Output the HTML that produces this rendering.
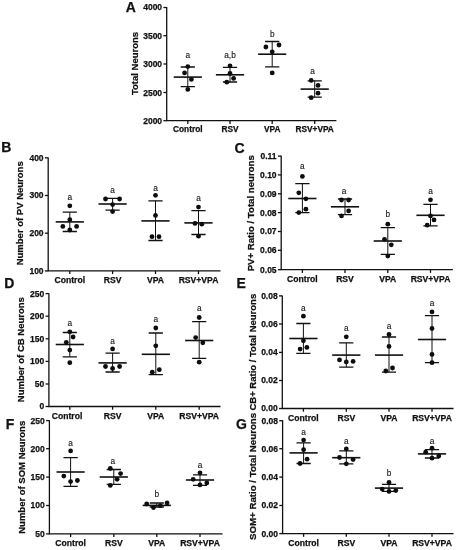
<!DOCTYPE html>
<html><head><meta charset="utf-8"><title>Figure</title>
<style>html,body{margin:0;padding:0;background:#fff;}svg{display:block;will-change:transform;}text{font-family:"Liberation Sans",sans-serif;fill:#111;}.b{font-weight:bold;stroke:#111;stroke-width:0.25px;}.ln{stroke:#111;stroke-width:1.3;fill:none;}.d{fill:#0d0d0d;}.m{stroke-width:1.6}.c{stroke-width:1.3}.v{stroke-width:1.0}</style></head><body>
<svg width="458" height="550" viewBox="0 0 458 550">
<rect width="458" height="550" fill="#fff"/>
<g>
<text class="b" x="125.7" y="12.2" font-size="14">A</text>
<path class="ln" d="M166.7 7.0V120.7H336.4"/>
<path class="ln" d="M163.4 7.5H166.7"/>
<text class="b" x="162.1" y="10.4" font-size="8.5" text-anchor="end">4000</text>
<path class="ln" d="M163.4 35.7H166.7"/>
<text class="b" x="162.1" y="38.7" font-size="8.5" text-anchor="end">3500</text>
<path class="ln" d="M163.4 64.0H166.7"/>
<text class="b" x="162.1" y="67.0" font-size="8.5" text-anchor="end">3000</text>
<path class="ln" d="M163.4 92.5H166.7"/>
<text class="b" x="162.1" y="95.5" font-size="8.5" text-anchor="end">2500</text>
<path class="ln" d="M163.4 120.7H166.7"/>
<text class="b" x="162.1" y="123.7" font-size="8.5" text-anchor="end">2000</text>
<text class="b" font-size="9.5" text-anchor="middle" transform="translate(137.8 63.5) rotate(-90)">Total Neurons</text>
<path class="ln" d="M187.8 120.7V123.9"/>
<text class="b" x="187.8" y="132.3" font-size="8.3" text-anchor="middle">Control</text>
<path class="ln m" d="M173.7 77.1H201.9"/>
<path class="ln c" d="M180.7 67.0H194.9M180.7 86.7H194.9"/>
<path class="ln v" d="M187.8 67.0V86.7"/>
<circle class="d" cx="187.8" cy="66.6" r="2.4"/>
<circle class="d" cx="184.6" cy="72.9" r="2.4"/>
<circle class="d" cx="191.4" cy="79.4" r="2.4"/>
<circle class="d" cx="187.8" cy="89.4" r="2.4"/>
<text x="187.8" y="58.4" font-size="8.3" text-anchor="middle" fill="#2a2a2a" stroke="#2a2a2a" stroke-width="0.12">a</text>
<path class="ln" d="M230.0 120.7V123.9"/>
<text class="b" x="230.0" y="132.3" font-size="8.3" text-anchor="middle">RSV</text>
<path class="ln m" d="M215.9 74.8H244.1"/>
<path class="ln c" d="M222.9 67.3H237.1M222.9 82.0H237.1"/>
<path class="ln v" d="M230.0 67.3V82.0"/>
<circle class="d" cx="230.0" cy="65.8" r="2.4"/>
<circle class="d" cx="230.0" cy="73.4" r="2.4"/>
<circle class="d" cx="226.8" cy="82.2" r="2.4"/>
<circle class="d" cx="233.6" cy="78.4" r="2.4"/>
<text x="230.0" y="58.4" font-size="8.3" text-anchor="middle" fill="#2a2a2a" stroke="#2a2a2a" stroke-width="0.12">a,b</text>
<path class="ln" d="M272.2 120.7V123.9"/>
<text class="b" x="272.2" y="132.3" font-size="8.3" text-anchor="middle">VPA</text>
<path class="ln m" d="M258.1 54.2H286.3"/>
<path class="ln c" d="M265.1 41.5H279.3M265.1 66.8H279.3"/>
<path class="ln v" d="M272.2 41.5V66.8"/>
<circle class="d" cx="265.9" cy="47.0" r="2.4"/>
<circle class="d" cx="279.0" cy="45.0" r="2.4"/>
<circle class="d" cx="272.2" cy="51.8" r="2.4"/>
<circle class="d" cx="272.2" cy="72.9" r="2.4"/>
<text x="272.2" y="37.0" font-size="8.3" text-anchor="middle" fill="#2a2a2a" stroke="#2a2a2a" stroke-width="0.12">b</text>
<path class="ln" d="M314.7 120.7V123.9"/>
<text class="b" x="314.7" y="132.3" font-size="8.3" text-anchor="middle">RSV+VPA</text>
<path class="ln m" d="M300.6 89.1H328.8"/>
<path class="ln c" d="M307.6 80.9H321.8M307.6 97.2H321.8"/>
<path class="ln v" d="M314.7 80.9V97.2"/>
<circle class="d" cx="311.2" cy="80.4" r="2.4"/>
<circle class="d" cx="318.0" cy="85.4" r="2.4"/>
<circle class="d" cx="318.0" cy="93.2" r="2.4"/>
<circle class="d" cx="311.2" cy="97.7" r="2.4"/>
<text x="312.6" y="73.6" font-size="8.3" text-anchor="middle" fill="#2a2a2a" stroke="#2a2a2a" stroke-width="0.12">a</text>
</g>
<g>
<text class="b" x="1.3" y="152.2" font-size="14">B</text>
<path class="ln" d="M48.2 157.4V270.9H220.5"/>
<path class="ln" d="M44.9 157.8H48.2"/>
<text class="b" x="43.6" y="160.8" font-size="8.5" text-anchor="end">400</text>
<path class="ln" d="M44.9 195.5H48.2"/>
<text class="b" x="43.6" y="198.4" font-size="8.5" text-anchor="end">300</text>
<path class="ln" d="M44.9 233.2H48.2"/>
<text class="b" x="43.6" y="236.1" font-size="8.5" text-anchor="end">200</text>
<path class="ln" d="M44.9 270.9H48.2"/>
<text class="b" x="43.6" y="273.8" font-size="8.5" text-anchor="end">100</text>
<text class="b" font-size="9.5" text-anchor="middle" transform="translate(22.9 213.3) rotate(-90)">Number of PV Neurons</text>
<path class="ln" d="M69.8 270.9V274.1"/>
<text class="b" x="69.8" y="282.6" font-size="8.6" text-anchor="middle">Control</text>
<path class="ln m" d="M55.7 221.9H83.9"/>
<path class="ln c" d="M62.7 212.1H76.9M62.7 231.5H76.9"/>
<path class="ln v" d="M69.8 212.1V231.5"/>
<circle class="d" cx="69.8" cy="205.8" r="2.4"/>
<circle class="d" cx="69.8" cy="219.7" r="2.4"/>
<circle class="d" cx="62.8" cy="226.4" r="2.4"/>
<circle class="d" cx="76.6" cy="226.4" r="2.4"/>
<circle class="d" cx="69.8" cy="230.0" r="2.4"/>
<text x="69.8" y="200.4" font-size="8.3" text-anchor="middle" fill="#2a2a2a" stroke="#2a2a2a" stroke-width="0.12">a</text>
<path class="ln" d="M112.6 270.9V274.1"/>
<text class="b" x="112.6" y="282.6" font-size="8.6" text-anchor="middle">RSV</text>
<path class="ln m" d="M98.5 204.0H126.7"/>
<path class="ln c" d="M105.5 198.3H119.7M105.5 210.1H119.7"/>
<path class="ln v" d="M112.6 198.3V210.1"/>
<circle class="d" cx="105.5" cy="199.0" r="2.4"/>
<circle class="d" cx="119.6" cy="199.0" r="2.4"/>
<circle class="d" cx="112.6" cy="204.6" r="2.4"/>
<circle class="d" cx="112.6" cy="211.6" r="2.4"/>
<text x="112.6" y="192.9" font-size="8.3" text-anchor="middle" fill="#2a2a2a" stroke="#2a2a2a" stroke-width="0.12">a</text>
<path class="ln" d="M155.5 270.9V274.1"/>
<text class="b" x="155.5" y="282.6" font-size="8.6" text-anchor="middle">VPA</text>
<path class="ln m" d="M141.4 220.9H169.6"/>
<path class="ln c" d="M148.4 200.8H162.6M148.4 240.5H162.6"/>
<path class="ln v" d="M155.5 200.8V240.5"/>
<circle class="d" cx="155.5" cy="195.3" r="2.4"/>
<circle class="d" cx="155.5" cy="215.4" r="2.4"/>
<circle class="d" cx="152.0" cy="236.7" r="2.4"/>
<circle class="d" cx="159.0" cy="236.7" r="2.4"/>
<text x="155.5" y="191.1" font-size="8.3" text-anchor="middle" fill="#2a2a2a" stroke="#2a2a2a" stroke-width="0.12">a</text>
<path class="ln" d="M198.5 270.9V274.1"/>
<text class="b" x="198.5" y="282.6" font-size="8.6" text-anchor="middle">RSV+VPA</text>
<path class="ln m" d="M184.4 222.9H212.6"/>
<path class="ln c" d="M191.4 210.6H205.6M191.4 234.5H205.6"/>
<path class="ln v" d="M198.5 210.6V234.5"/>
<circle class="d" cx="198.5" cy="207.1" r="2.4"/>
<circle class="d" cx="195.0" cy="223.4" r="2.4"/>
<circle class="d" cx="201.8" cy="224.2" r="2.4"/>
<circle class="d" cx="198.5" cy="236.2" r="2.4"/>
<text x="198.5" y="200.9" font-size="8.3" text-anchor="middle" fill="#2a2a2a" stroke="#2a2a2a" stroke-width="0.12">a</text>
</g>
<g>
<text class="b" x="234.5" y="153.0" font-size="14">C</text>
<path class="ln" d="M281.2 155.7V269.7H452.8"/>
<path class="ln" d="M277.9 156.1H281.2"/>
<text class="b" x="276.6" y="159.0" font-size="8.5" text-anchor="end">0.11</text>
<path class="ln" d="M277.9 174.9H281.2"/>
<text class="b" x="276.6" y="177.8" font-size="8.5" text-anchor="end">0.10</text>
<path class="ln" d="M277.9 193.8H281.2"/>
<text class="b" x="276.6" y="196.8" font-size="8.5" text-anchor="end">0.09</text>
<path class="ln" d="M277.9 212.6H281.2"/>
<text class="b" x="276.6" y="215.5" font-size="8.5" text-anchor="end">0.08</text>
<path class="ln" d="M277.9 231.5H281.2"/>
<text class="b" x="276.6" y="234.4" font-size="8.5" text-anchor="end">0.07</text>
<path class="ln" d="M277.9 250.3H281.2"/>
<text class="b" x="276.6" y="253.2" font-size="8.5" text-anchor="end">0.06</text>
<path class="ln" d="M277.9 269.7H281.2"/>
<text class="b" x="276.6" y="272.6" font-size="8.5" text-anchor="end">0.05</text>
<text class="b" font-size="9.65" text-anchor="middle" transform="translate(254.3 213.3) rotate(-90)">PV+ Ratio / Total neurons</text>
<path class="ln" d="M302.4 269.7V272.9"/>
<text class="b" x="302.4" y="281.7" font-size="8.6" text-anchor="middle">Control</text>
<path class="ln m" d="M288.3 198.5H316.5"/>
<path class="ln c" d="M295.3 183.7H309.5M295.3 212.6H309.5"/>
<path class="ln v" d="M302.4 183.7V212.6"/>
<circle class="d" cx="302.4" cy="176.4" r="2.4"/>
<circle class="d" cx="298.8" cy="192.8" r="2.4"/>
<circle class="d" cx="305.9" cy="198.8" r="2.4"/>
<circle class="d" cx="298.8" cy="212.6" r="2.4"/>
<circle class="d" cx="305.9" cy="209.2" r="2.4"/>
<text x="302.4" y="169.4" font-size="8.3" text-anchor="middle" fill="#2a2a2a" stroke="#2a2a2a" stroke-width="0.12">a</text>
<path class="ln" d="M345.0 269.7V272.9"/>
<text class="b" x="345.0" y="281.7" font-size="8.6" text-anchor="middle">RSV</text>
<path class="ln m" d="M330.9 206.8H359.1"/>
<path class="ln c" d="M337.9 199.0H352.1M337.9 214.6H352.1"/>
<path class="ln v" d="M345.0 199.0V214.6"/>
<circle class="d" cx="341.5" cy="200.0" r="2.4"/>
<circle class="d" cx="348.6" cy="200.0" r="2.4"/>
<circle class="d" cx="348.6" cy="210.9" r="2.4"/>
<circle class="d" cx="341.5" cy="215.9" r="2.4"/>
<text x="344.0" y="193.9" font-size="8.3" text-anchor="middle" fill="#2a2a2a" stroke="#2a2a2a" stroke-width="0.12">a</text>
<path class="ln" d="M387.8 269.7V272.9"/>
<text class="b" x="387.8" y="281.7" font-size="8.6" text-anchor="middle">VPA</text>
<path class="ln m" d="M373.7 241.0H401.9"/>
<path class="ln c" d="M380.7 227.7H394.9M380.7 254.3H394.9"/>
<path class="ln v" d="M387.8 227.7V254.3"/>
<circle class="d" cx="387.8" cy="224.2" r="2.4"/>
<circle class="d" cx="384.5" cy="239.3" r="2.4"/>
<circle class="d" cx="391.3" cy="244.8" r="2.4"/>
<circle class="d" cx="387.8" cy="256.1" r="2.4"/>
<text x="387.8" y="216.5" font-size="8.3" text-anchor="middle" fill="#2a2a2a" stroke="#2a2a2a" stroke-width="0.12">b</text>
<path class="ln" d="M430.5 269.7V272.9"/>
<text class="b" x="430.5" y="281.7" font-size="8.6" text-anchor="middle">RSV+VPA</text>
<path class="ln m" d="M416.4 215.3H444.6"/>
<path class="ln c" d="M423.4 204.3H437.6M423.4 225.9H437.6"/>
<path class="ln v" d="M430.5 204.3V225.9"/>
<circle class="d" cx="430.5" cy="199.8" r="2.4"/>
<circle class="d" cx="430.5" cy="215.9" r="2.4"/>
<circle class="d" cx="434.0" cy="219.9" r="2.4"/>
<circle class="d" cx="427.2" cy="225.2" r="2.4"/>
<text x="430.5" y="194.1" font-size="8.3" text-anchor="middle" fill="#2a2a2a" stroke="#2a2a2a" stroke-width="0.12">a</text>
</g>
<g>
<text class="b" x="4.3" y="287.6" font-size="14">D</text>
<path class="ln" d="M48.9 293.2V406.5H220.5"/>
<path class="ln" d="M45.6 293.6H48.9"/>
<text class="b" x="44.3" y="296.6" font-size="8.5" text-anchor="end">250</text>
<path class="ln" d="M45.6 316.2H48.9"/>
<text class="b" x="44.3" y="319.1" font-size="8.5" text-anchor="end">200</text>
<path class="ln" d="M45.6 338.8H48.9"/>
<text class="b" x="44.3" y="341.8" font-size="8.5" text-anchor="end">150</text>
<path class="ln" d="M45.6 361.4H48.9"/>
<text class="b" x="44.3" y="364.3" font-size="8.5" text-anchor="end">100</text>
<path class="ln" d="M45.6 384.0H48.9"/>
<text class="b" x="44.3" y="386.9" font-size="8.5" text-anchor="end">50</text>
<path class="ln" d="M45.6 406.5H48.9"/>
<text class="b" x="44.3" y="409.4" font-size="8.5" text-anchor="end">0</text>
<text class="b" font-size="9.5" text-anchor="middle" transform="translate(24.3 349.7) rotate(-90)">Number of CB Neurons</text>
<path class="ln" d="M69.8 406.5V409.7"/>
<text class="b" x="67.0" y="418.6" font-size="8.6" text-anchor="middle">Control</text>
<path class="ln m" d="M55.7 344.5H83.9"/>
<path class="ln c" d="M62.7 332.5H76.9M62.7 356.9H76.9"/>
<path class="ln v" d="M69.8 332.5V356.9"/>
<circle class="d" cx="69.8" cy="331.8" r="2.4"/>
<circle class="d" cx="73.1" cy="337.0" r="2.4"/>
<circle class="d" cx="66.3" cy="342.3" r="2.4"/>
<circle class="d" cx="69.8" cy="350.1" r="2.4"/>
<circle class="d" cx="69.8" cy="362.7" r="2.4"/>
<text x="69.8" y="326.3" font-size="8.3" text-anchor="middle" fill="#2a2a2a" stroke="#2a2a2a" stroke-width="0.12">a</text>
<path class="ln" d="M112.6 406.5V409.7"/>
<text class="b" x="112.6" y="418.6" font-size="8.6" text-anchor="middle">RSV</text>
<path class="ln m" d="M98.5 362.9H126.7"/>
<path class="ln c" d="M105.5 353.1H119.7M105.5 372.0H119.7"/>
<path class="ln v" d="M112.6 353.1V372.0"/>
<circle class="d" cx="112.6" cy="348.9" r="2.4"/>
<circle class="d" cx="105.5" cy="366.5" r="2.4"/>
<circle class="d" cx="119.6" cy="366.5" r="2.4"/>
<circle class="d" cx="112.6" cy="368.5" r="2.4"/>
<text x="112.6" y="344.4" font-size="8.3" text-anchor="middle" fill="#2a2a2a" stroke="#2a2a2a" stroke-width="0.12">a</text>
<path class="ln" d="M155.8 406.5V409.7"/>
<text class="b" x="155.8" y="418.6" font-size="8.6" text-anchor="middle">VPA</text>
<path class="ln m" d="M141.7 354.3H169.9"/>
<path class="ln c" d="M148.7 333.0H162.9M148.7 374.7H162.9"/>
<path class="ln v" d="M155.8 333.0V374.7"/>
<circle class="d" cx="155.8" cy="328.0" r="2.4"/>
<circle class="d" cx="155.8" cy="345.8" r="2.4"/>
<circle class="d" cx="159.3" cy="369.7" r="2.4"/>
<circle class="d" cx="152.3" cy="372.2" r="2.4"/>
<text x="155.8" y="321.8" font-size="8.3" text-anchor="middle" fill="#2a2a2a" stroke="#2a2a2a" stroke-width="0.12">a</text>
<path class="ln" d="M199.2 406.5V409.7"/>
<text class="b" x="199.2" y="418.6" font-size="8.6" text-anchor="middle">RSV+VPA</text>
<path class="ln m" d="M185.1 340.5H213.3"/>
<path class="ln c" d="M192.1 321.7H206.3M192.1 358.4H206.3"/>
<path class="ln v" d="M199.2 321.7V358.4"/>
<circle class="d" cx="199.2" cy="317.5" r="2.4"/>
<circle class="d" cx="195.7" cy="337.6" r="2.4"/>
<circle class="d" cx="202.8" cy="342.8" r="2.4"/>
<circle class="d" cx="199.2" cy="362.2" r="2.4"/>
<text x="199.2" y="311.3" font-size="8.3" text-anchor="middle" fill="#2a2a2a" stroke="#2a2a2a" stroke-width="0.12">a</text>
</g>
<g>
<text class="b" x="236.4" y="287.8" font-size="14">E</text>
<path class="ln" d="M282.3 295.4V408.5H453.5"/>
<path class="ln" d="M279.0 295.9H282.3"/>
<text class="b" x="277.7" y="298.8" font-size="8.5" text-anchor="end">0.08</text>
<path class="ln" d="M279.0 324.0H282.3"/>
<text class="b" x="277.7" y="326.9" font-size="8.5" text-anchor="end">0.06</text>
<path class="ln" d="M279.0 352.4H282.3"/>
<text class="b" x="277.7" y="355.3" font-size="8.5" text-anchor="end">0.04</text>
<path class="ln" d="M279.0 380.5H282.3"/>
<text class="b" x="277.7" y="383.4" font-size="8.5" text-anchor="end">0.02</text>
<path class="ln" d="M279.0 408.5H282.3"/>
<text class="b" x="277.7" y="411.4" font-size="8.5" text-anchor="end">0.00</text>
<text class="b" font-size="9.5" text-anchor="middle" transform="translate(255.5 352.2) rotate(-90)">CB+ Ratio / Total Neurons</text>
<path class="ln" d="M303.4 408.5V411.7"/>
<text class="b" x="303.4" y="421.1" font-size="8.6" text-anchor="middle">Control</text>
<path class="ln m" d="M289.3 338.5H317.5"/>
<path class="ln c" d="M296.3 323.5H310.5M296.3 353.4H310.5"/>
<path class="ln v" d="M303.4 323.5V353.4"/>
<circle class="d" cx="303.4" cy="316.2" r="2.4"/>
<circle class="d" cx="303.4" cy="340.8" r="2.4"/>
<circle class="d" cx="300.1" cy="349.1" r="2.4"/>
<circle class="d" cx="306.9" cy="347.4" r="2.4"/>
<text x="303.4" y="310.8" font-size="8.3" text-anchor="middle" fill="#2a2a2a" stroke="#2a2a2a" stroke-width="0.12">a</text>
<path class="ln" d="M346.3 408.5V411.7"/>
<text class="b" x="346.3" y="421.1" font-size="8.6" text-anchor="middle">RSV</text>
<path class="ln m" d="M332.2 355.1H360.4"/>
<path class="ln c" d="M339.2 342.8H353.4M339.2 367.2H353.4"/>
<path class="ln v" d="M346.3 342.8V367.2"/>
<circle class="d" cx="346.3" cy="336.8" r="2.4"/>
<circle class="d" cx="339.5" cy="359.9" r="2.4"/>
<circle class="d" cx="353.1" cy="361.4" r="2.4"/>
<circle class="d" cx="346.3" cy="361.9" r="2.4"/>
<text x="346.3" y="331.4" font-size="8.3" text-anchor="middle" fill="#2a2a2a" stroke="#2a2a2a" stroke-width="0.12">a</text>
<path class="ln" d="M389.0 408.5V411.7"/>
<text class="b" x="389.0" y="421.1" font-size="8.6" text-anchor="middle">VPA</text>
<path class="ln m" d="M374.9 355.1H403.1"/>
<path class="ln c" d="M381.9 337.0H396.1M381.9 372.2H396.1"/>
<path class="ln v" d="M389.0 337.0V372.2"/>
<circle class="d" cx="389.0" cy="334.5" r="2.4"/>
<circle class="d" cx="389.0" cy="346.4" r="2.4"/>
<circle class="d" cx="392.5" cy="368.0" r="2.4"/>
<circle class="d" cx="385.8" cy="371.0" r="2.4"/>
<text x="389.0" y="328.9" font-size="8.3" text-anchor="middle" fill="#2a2a2a" stroke="#2a2a2a" stroke-width="0.12">a</text>
<path class="ln" d="M432.0 408.5V411.7"/>
<text class="b" x="432.0" y="421.1" font-size="8.6" text-anchor="middle">RSV+VPA</text>
<path class="ln m" d="M417.9 339.5H446.1"/>
<path class="ln c" d="M424.9 315.7H439.1M424.9 362.7H439.1"/>
<path class="ln v" d="M432.0 315.7V362.7"/>
<circle class="d" cx="432.0" cy="311.9" r="2.4"/>
<circle class="d" cx="432.0" cy="328.5" r="2.4"/>
<circle class="d" cx="432.0" cy="354.4" r="2.4"/>
<circle class="d" cx="432.0" cy="362.7" r="2.4"/>
<text x="432.0" y="306.2" font-size="8.3" text-anchor="middle" fill="#2a2a2a" stroke="#2a2a2a" stroke-width="0.12">a</text>
</g>
<g>
<text class="b" x="5.8" y="428.8" font-size="14">F</text>
<path class="ln" d="M49.4 420.2V533.9H222.5"/>
<path class="ln" d="M46.1 420.6H49.4"/>
<text class="b" x="44.8" y="423.6" font-size="8.5" text-anchor="end">250</text>
<path class="ln" d="M46.1 448.7H49.4"/>
<text class="b" x="44.8" y="451.6" font-size="8.5" text-anchor="end">200</text>
<path class="ln" d="M46.1 477.1H49.4"/>
<text class="b" x="44.8" y="480.1" font-size="8.5" text-anchor="end">150</text>
<path class="ln" d="M46.1 505.5H49.4"/>
<text class="b" x="44.8" y="508.4" font-size="8.5" text-anchor="end">100</text>
<path class="ln" d="M46.1 533.9H49.4"/>
<text class="b" x="44.8" y="536.9" font-size="8.5" text-anchor="end">50</text>
<text class="b" font-size="9.5" text-anchor="middle" transform="translate(25.0 477.3) rotate(-90)">Number of SOM Neurons</text>
<path class="ln" d="M70.6 533.9V537.1"/>
<text class="b" x="70.6" y="545.7" font-size="8.6" text-anchor="middle">Control</text>
<path class="ln m" d="M56.5 472.0H84.7"/>
<path class="ln c" d="M63.5 457.7H77.7M63.5 486.4H77.7"/>
<path class="ln v" d="M70.6 457.7V486.4"/>
<circle class="d" cx="70.6" cy="450.9" r="2.4"/>
<circle class="d" cx="63.8" cy="476.1" r="2.4"/>
<circle class="d" cx="77.4" cy="480.5" r="2.4"/>
<circle class="d" cx="70.6" cy="481.6" r="2.4"/>
<text x="70.6" y="446.0" font-size="8.3" text-anchor="middle" fill="#2a2a2a" stroke="#2a2a2a" stroke-width="0.12">a</text>
<path class="ln" d="M113.8 533.9V537.1"/>
<text class="b" x="113.8" y="545.7" font-size="8.6" text-anchor="middle">RSV</text>
<path class="ln m" d="M99.7 477.0H127.9"/>
<path class="ln c" d="M106.7 469.5H120.9M106.7 484.4H120.9"/>
<path class="ln v" d="M113.8 469.5V484.4"/>
<circle class="d" cx="110.3" cy="468.5" r="2.4"/>
<circle class="d" cx="120.6" cy="473.6" r="2.4"/>
<circle class="d" cx="117.1" cy="479.3" r="2.4"/>
<circle class="d" cx="110.3" cy="485.4" r="2.4"/>
<text x="112.9" y="463.6" font-size="8.3" text-anchor="middle" fill="#2a2a2a" stroke="#2a2a2a" stroke-width="0.12">a</text>
<path class="ln" d="M156.8 533.9V537.1"/>
<text class="b" x="156.8" y="545.7" font-size="8.6" text-anchor="middle">VPA</text>
<path class="ln m" d="M142.7 505.4H170.9"/>
<path class="ln c" d="M149.7 503.0H163.9M149.7 507.0H163.9"/>
<path class="ln v" d="M156.8 503.0V507.0"/>
<circle class="d" cx="146.7" cy="504.0" r="2.4"/>
<circle class="d" cx="167.1" cy="503.0" r="2.4"/>
<circle class="d" cx="160.3" cy="505.7" r="2.4"/>
<circle class="d" cx="153.5" cy="507.5" r="2.4"/>
<text x="156.8" y="496.5" font-size="8.3" text-anchor="middle" fill="#2a2a2a" stroke="#2a2a2a" stroke-width="0.12">b</text>
<path class="ln" d="M200.0 533.9V537.1"/>
<text class="b" x="200.0" y="545.7" font-size="8.6" text-anchor="middle">RSV+VPA</text>
<path class="ln m" d="M185.9 480.0H214.1"/>
<path class="ln c" d="M192.9 474.8H207.1M192.9 485.4H207.1"/>
<path class="ln v" d="M200.0 474.8V485.4"/>
<circle class="d" cx="200.0" cy="472.8" r="2.4"/>
<circle class="d" cx="193.2" cy="479.3" r="2.4"/>
<circle class="d" cx="206.8" cy="482.9" r="2.4"/>
<circle class="d" cx="200.0" cy="484.9" r="2.4"/>
<text x="200.0" y="468.1" font-size="8.3" text-anchor="middle" fill="#2a2a2a" stroke="#2a2a2a" stroke-width="0.12">a</text>
</g>
<g>
<text class="b" x="236.0" y="428.8" font-size="14">G</text>
<path class="ln" d="M282.6 420.2V533.6H453.5"/>
<path class="ln" d="M279.3 420.7H282.6"/>
<text class="b" x="278.0" y="423.6" font-size="8.5" text-anchor="end">0.08</text>
<path class="ln" d="M279.3 448.7H282.6"/>
<text class="b" x="278.0" y="451.6" font-size="8.5" text-anchor="end">0.06</text>
<path class="ln" d="M279.3 477.1H282.6"/>
<text class="b" x="278.0" y="480.1" font-size="8.5" text-anchor="end">0.04</text>
<path class="ln" d="M279.3 505.5H282.6"/>
<text class="b" x="278.0" y="508.4" font-size="8.5" text-anchor="end">0.02</text>
<path class="ln" d="M279.3 533.6H282.6"/>
<text class="b" x="278.0" y="536.6" font-size="8.5" text-anchor="end">0.00</text>
<text class="b" font-size="9.7" text-anchor="middle" transform="translate(256.0 476.4) rotate(-90)">SOM+ Ratio / Total Neurons</text>
<path class="ln" d="M303.6 533.6V536.8"/>
<text class="b" x="303.6" y="545.7" font-size="8.6" text-anchor="middle">Control</text>
<path class="ln m" d="M289.5 452.9H317.7"/>
<path class="ln c" d="M296.5 442.9H310.7M296.5 463.5H310.7"/>
<path class="ln v" d="M303.6 442.9V463.5"/>
<circle class="d" cx="303.6" cy="440.1" r="2.4"/>
<circle class="d" cx="303.6" cy="449.7" r="2.4"/>
<circle class="d" cx="307.1" cy="459.2" r="2.4"/>
<circle class="d" cx="300.1" cy="463.5" r="2.4"/>
<text x="303.6" y="434.7" font-size="8.3" text-anchor="middle" fill="#2a2a2a" stroke="#2a2a2a" stroke-width="0.12">a</text>
<path class="ln" d="M346.3 533.6V536.8"/>
<text class="b" x="346.3" y="545.7" font-size="8.6" text-anchor="middle">RSV</text>
<path class="ln m" d="M332.2 457.7H360.4"/>
<path class="ln c" d="M339.2 450.9H353.4M339.2 463.8H353.4"/>
<path class="ln v" d="M346.3 450.9V463.8"/>
<circle class="d" cx="346.3" cy="448.9" r="2.4"/>
<circle class="d" cx="339.5" cy="457.5" r="2.4"/>
<circle class="d" cx="353.1" cy="459.5" r="2.4"/>
<circle class="d" cx="346.3" cy="463.8" r="2.4"/>
<text x="346.3" y="444.0" font-size="8.3" text-anchor="middle" fill="#2a2a2a" stroke="#2a2a2a" stroke-width="0.12">a</text>
<path class="ln" d="M389.0 533.6V536.8"/>
<text class="b" x="389.0" y="545.7" font-size="8.6" text-anchor="middle">VPA</text>
<path class="ln m" d="M374.9 488.1H403.1"/>
<path class="ln c" d="M381.9 484.4H396.1M381.9 491.4H396.1"/>
<path class="ln v" d="M389.0 484.4V491.4"/>
<circle class="d" cx="389.0" cy="482.4" r="2.4"/>
<circle class="d" cx="382.2" cy="489.1" r="2.4"/>
<circle class="d" cx="395.8" cy="490.6" r="2.4"/>
<circle class="d" cx="389.0" cy="491.4" r="2.4"/>
<text x="389.0" y="476.2" font-size="8.3" text-anchor="middle" fill="#2a2a2a" stroke="#2a2a2a" stroke-width="0.12">b</text>
<path class="ln" d="M432.0 533.6V536.8"/>
<text class="b" x="432.0" y="545.7" font-size="8.6" text-anchor="middle">RSV+VPA</text>
<path class="ln m" d="M417.9 453.9H446.1"/>
<path class="ln c" d="M424.9 449.7H439.1M424.9 458.0H439.1"/>
<path class="ln v" d="M432.0 449.7V458.0"/>
<circle class="d" cx="432.0" cy="448.2" r="2.4"/>
<circle class="d" cx="425.7" cy="452.2" r="2.4"/>
<circle class="d" cx="438.8" cy="456.0" r="2.4"/>
<circle class="d" cx="432.0" cy="458.2" r="2.4"/>
<text x="432.0" y="444.0" font-size="8.3" text-anchor="middle" fill="#2a2a2a" stroke="#2a2a2a" stroke-width="0.12">a</text>
</g>
</svg></body></html>
